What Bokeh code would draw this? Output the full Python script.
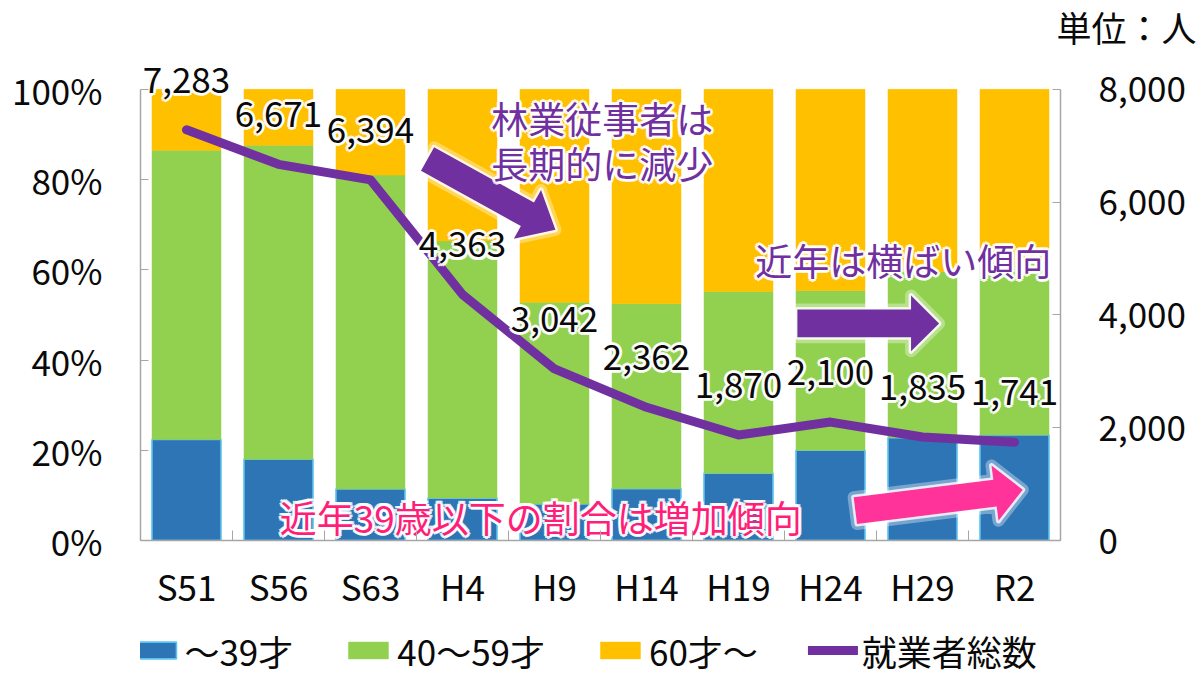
import math
from bokeh.plotting import figure
from bokeh.layouts import column
from bokeh.models import (Range1d, LinearAxis, FixedTicker, Legend, LegendItem, Title,
                          ColumnDataSource, NumeralTickFormatter)
from bokeh.core.properties import value
from bokeh.embed import file_html
from bokeh.resources import INLINE

# ---------------- data ----------------
categories = ["S51", "S56", "S63", "H4", "H9", "H14", "H19", "H24", "H29", "R2"]
under39 = [22.4, 18.0, 11.4, 9.4, 8.1, 11.5, 14.9, 20.0, 22.8, 23.4]
age40_59 = [64.1, 69.6, 69.6, 57.0, 44.7, 41.0, 40.3, 35.4, 36.8, 38.4]
over60 = [13.5, 12.4, 19.0, 33.6, 47.2, 47.5, 44.8, 44.6, 40.4, 38.2]
workers = [7283, 6671, 6394, 4363, 3042, 2362, 1870, 2100, 1835, 1741]
series_names = ["～39才", "40～59才", "60才～", "就業者総数"]
left_ticks = [0, 20, 40, 60, 80, 100]
right_ticks = [0, 2000, 4000, 6000, 8000]
unit_text = "単位：人"
note_decline = ["林業従事者は", "長期的に減少"]
note_flat = "近年は横ばい傾向"
note_young = "近年39歳以下の割合は増加傾向"

# ---------------- style ----------------
FONT = "Noto Sans CJK JP"
FONT_COMPACT = "Roboto, 'Noto Sans CJK JP'"
C_BLUE, C_BLUE_EDGE = "#2E75B6", "#5BC3F0"
C_GREEN, C_ORANGE = "#92D050", "#FFC000"
C_PURPLE, C_PINK_TXT, C_PINK = "#7030A0", "#FF1F78", "#FF3399"
TXT = "#0a0a0a"
AXIS_C = "#A6A6A6"

W, H, H_LEG, W_LEG = 1198, 624, 52, 1181
BL, BR, BT, BB = 140, 138, 55, 84
FW, FH = W - BL - BR, H - BT - BB
PX_Y = 4.53
YMAX = FH / PX_Y
PX_X = FW / len(categories)

p = figure(width=W, height=H, output_backend="svg", toolbar_location=None,
           x_range=Range1d(0, len(categories)), y_range=Range1d(0, YMAX),
           min_border_left=BL, min_border_right=BR, min_border_top=BT, min_border_bottom=BB,
           outline_line_color=None, background_fill_color="white", border_fill_color="white")
p.extra_y_ranges = {"right": Range1d(0, YMAX * 80)}
p.xgrid.visible = False
p.ygrid.visible = False

p.title = Title(text=unit_text, align="right", offset=-136, standoff=14, vertical_align="bottom",
                text_font=FONT_COMPACT, text_font_size="35px", text_font_style="normal",
                text_color=TXT)

xs = [i + 0.5 for i in range(len(categories))]
src = ColumnDataSource(dict(x=xs, under39=under39, age40_59=age40_59, over60=over60,
                            workers=workers, lab=[f"{v:,}" for v in workers]))

STACK = ["under39", "age40_59", "over60"]
BAR_KW = dict(fill_color=[C_BLUE, C_GREEN, C_ORANGE], line_color=[C_BLUE_EDGE, C_GREEN, C_ORANGE],
              line_width=[1.6, 0.5, 0.5])
bars = p.vbar_stack(STACK, x="x", width=0.75, source=src, **BAR_KW)

LINE_KW = dict(line_color=C_PURPLE, line_width=9, line_join="round", line_cap="round")
line = p.line(x="x", y="workers", source=src, y_range_name="right", **LINE_KW)

# ---------------- arrows ----------------
def arrow_poly(x0, y0, x1, y1, shaft, head_w, head_len):
    X0, Y0, X1, Y1 = x0 * PX_X, y0 * PX_Y, x1 * PX_X, y1 * PX_Y
    L = math.hypot(X1 - X0, Y1 - Y0)
    ux, uy = (X1 - X0) / L, (Y1 - Y0) / L
    nx, ny = -uy, ux
    bx, by = X1 - ux * head_len, Y1 - uy * head_len
    pts = [(X0 + nx * shaft / 2, Y0 + ny * shaft / 2), (bx + nx * shaft / 2, by + ny * shaft / 2),
           (bx + nx * head_w / 2, by + ny * head_w / 2), (X1, Y1),
           (bx - nx * head_w / 2, by - ny * head_w / 2), (bx - nx * shaft / 2, by - ny * shaft / 2),
           (X0 - nx * shaft / 2, Y0 - ny * shaft / 2)]
    return [q[0] / PX_X for q in pts], [q[1] / PX_Y for q in pts]

def draw_arrow(x0, y0, x1, y1, color, shaft=27, head_w=56, head_len=30):
    ax, ay = arrow_poly(x0, y0, x1, y1, shaft, head_w, head_len)
    p.patch(ax, ay, fill_color="white", fill_alpha=0.35, line_color="white", line_alpha=0.35,
            line_width=12, line_join="round")
    p.patch(ax, ay, fill_color="white", fill_alpha=0.8, line_color="white", line_alpha=0.8,
            line_width=5, line_join="round")
    p.patch(ax, ay, fill_color=color, line_color=None)

draw_arrow(3.12, 84.55, 4.51, 68.87, C_PURPLE, head_len=32)
draw_arrow(7.14, 48.12, 8.68, 48.12, C_PURPLE, shaft=28, head_len=28)
draw_arrow(7.77, 6.62, 9.59, 11.26, C_PINK, head_len=28)

# ---------------- glowing text ----------------
R = 3
OFFS = [(R, 0), (-R, 0), (0, R), (0, -R), (0.7 * R, 0.7 * R), (-0.7 * R, 0.7 * R),
        (0.7 * R, -0.7 * R), (-0.7 * R, -0.7 * R)]

def glow_text(x, y, text, color, size, y_off=0, y_range_name="default", source=None):
    kw = dict(text_font=value(FONT), text_font_size=value(size), text_align="center",
              text_baseline="middle", y_range_name=y_range_name)
    if source is not None:
        kw["source"] = source
    for dx, dy in OFFS:
        p.text(x=x, y=y, text=text, x_offset=dx, y_offset=y_off + dy, text_color="white",
               text_alpha=0.85, **kw)
    p.text(x=x, y=y, text=text, y_offset=y_off, text_color=color, **kw)

glow_text("x", "workers", "lab", TXT, "35px", y_off=-50, y_range_name="right", source=src)
glow_text([5.02, 5.02], [93.6, 83.66], note_decline, C_PURPLE, "37px")
glow_text([8.29], [62.25], [note_flat], C_PURPLE, "37px")
glow_text([4.35], [5.3], [note_young], C_PINK_TXT, "37px")

# ---------------- axes ----------------
xa = p.xaxis[0]
xa.ticker = FixedTicker(ticks=xs, minor_ticks=list(range(len(categories) + 1)))
xa.major_label_overrides = {x: c for x, c in zip(xs, categories)}
xa.minor_tick_in, xa.minor_tick_out = 10, 0
xa.minor_tick_line_color = AXIS_C
xa.bounds = (0, len(categories))

ya = p.yaxis[0]
ya.ticker = FixedTicker(ticks=left_ticks)
ya.major_label_overrides = {t: f"{t}%" for t in left_ticks}
ya.bounds = (0, 100)
ya.major_tick_in, ya.major_tick_out = 8, 0
ya.minor_tick_line_color = None

ra = LinearAxis(y_range_name="right", ticker=FixedTicker(ticks=right_ticks),
                formatter=NumeralTickFormatter(format="0,0"), bounds=(0, 8000))
ra.major_tick_in, ra.major_tick_out = 8, 0
ra.minor_tick_line_color = None
p.add_layout(ra, "right")

for ax in (xa, ya, ra):
    ax.axis_line_color = AXIS_C
    ax.axis_line_width = 1.5
    ax.major_tick_line_color = AXIS_C
    ax.major_label_text_font = FONT
    ax.major_label_text_font_size = "35px"
    ax.major_label_text_color = TXT
xa.major_tick_line_color = None
xa.major_tick_in, xa.major_tick_out = 0, 0
xa.major_label_standoff = 19
ya.major_label_standoff = 38
ra.major_label_standoff = 38

# ---------------- legend strip below the chart ----------------
pl = figure(width=W_LEG, height=H_LEG, output_backend="svg", toolbar_location=None,
            x_range=Range1d(0, len(categories)), y_range=Range1d(0, 100),
            x_axis_type=None, y_axis_type=None,
            min_border=0, outline_line_color=None, background_fill_color="white",
            border_fill_color="white")
pl.grid.visible = False
leg_bars = pl.vbar_stack(STACK, x="x", width=0.75, source=src, visible=False, **BAR_KW)
leg_line = pl.line(x="x", y="workers", source=src, visible=False, **LINE_KW)
leg_r = list(leg_bars) + [leg_line]

# trailing no-break spaces give the last label room so it is not clipped
leg_labels = series_names[:-1] + [series_names[-1] + "\u00a0\u00a0"]
legend = Legend(items=[LegendItem(label=n, renderers=[r]) for n, r in zip(leg_labels, leg_r)],
                orientation="horizontal", location="center", glyph_width=50, glyph_height=21,
                label_standoff=4, spacing=50, padding=15, margin=0, border_line_color=None,
                background_fill_alpha=0, inactive_fill_alpha=0,
                label_text_font=FONT, label_text_font_size="35px", label_text_color=TXT,
                click_policy="none")
pl.add_layout(legend)

open("out.html", "w").write(file_html(column(p, pl, spacing=0), INLINE, title="林業従事者"))
